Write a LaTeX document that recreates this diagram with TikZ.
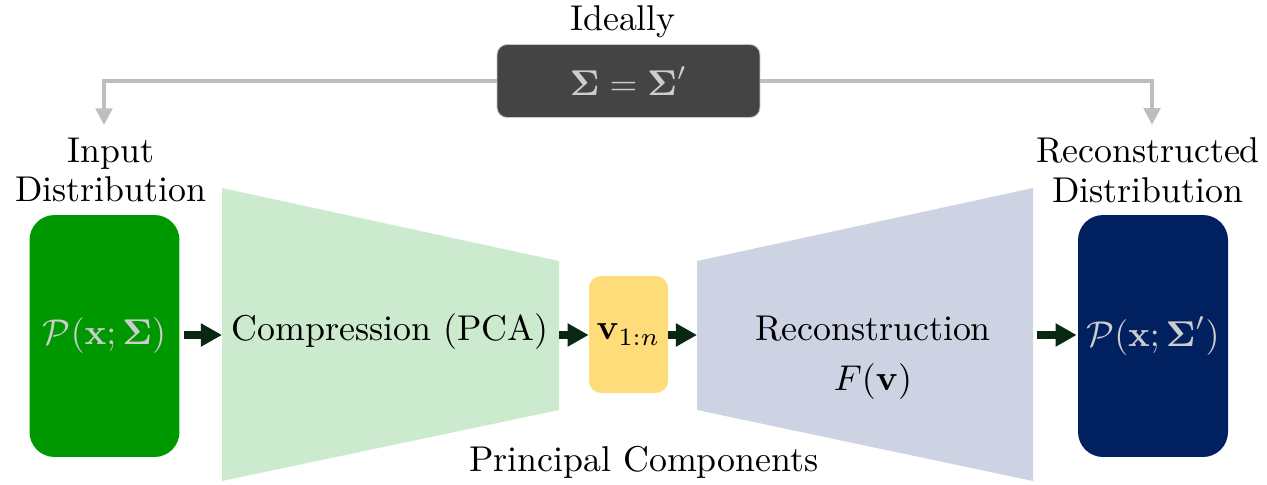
\documentclass[tikz,border=0pt]{standalone}
\usepackage{amsmath,amssymb}
\usetikzlibrary{arrows.meta}

\definecolor{ingreen}{RGB}{0,152,0}
\definecolor{compfill}{RGB}{204,235,206}
\definecolor{recfill}{RGB}{205,211,226}
\definecolor{outblue}{RGB}{0,32,96}
\definecolor{vyellow}{RGB}{255,220,122}
\definecolor{darkbox}{RGB}{68,68,68}
\definecolor{flowcol}{RGB}{8,40,18}
\definecolor{linkgray}{RGB}{190,190,190}
\definecolor{boxtext}{RGB}{205,205,205}

% 10pt design size, enlarged
\newcommand{\enlarged}[1]{\scalebox{2.04}{\fontsize{10}{11.1}\selectfont #1}}

\tikzset{
  txt/.style={scale=2.04, font=\fontsize{10}{11.1}\selectfont, text=black, align=center},
  distbox/.style={rounded corners=0.5cm, minimum width=3.0cm, minimum height=4.84cm,
    text=boxtext},
  flow/.style={draw=flowcol, line width=4pt,
    -{Triangle[length=12pt,width=12.5pt]}},
  link/.style={draw=linkgray, line width=1.8pt,
    -{Triangle[length=9.5pt,width=9.5pt]}},
}

\begin{document}
\begin{tikzpicture}[x=0.02cm, y=-0.02cm]
  \useasboundingbox (0,0) rectangle (1267,484);

  % encoder and decoder trapezoids
  \fill[compfill] (222,188) -- (559,261) -- (559,410) -- (222,481) -- cycle;
  \fill[recfill] (697,261) -- (1033,188) -- (1033,481) -- (697,410) -- cycle;
  \coordinate (compL) at (222,335);
  \coordinate (compR) at (559,335);
  \coordinate (recL) at (697,335);
  \coordinate (recR) at (1033,335);

  % top: ideal covariance condition
  \node[txt] (ideally) at (623,22) {Ideally};
  \node[fill=darkbox, draw=gray!45, line width=0.5pt, rounded corners=0.2cm,
        minimum width=5.26cm, minimum height=1.46cm, text=boxtext]
        (ideal) at (628.5,81) {\enlarged{$\boldsymbol{\Sigma}=\boldsymbol{\Sigma}'$}};

  % distributions
  \node[txt] (inlab) at (111,170) {Input\\Distribution};
  \node[txt] (outlab) at (1148,170) {Reconstructed\\Distribution};
  \node[distbox, fill=ingreen] (inbox) at (104.5,336)
        {\enlarged{$\mathcal{P}(\mathbf{x};\boldsymbol{\Sigma})$}};
  \node[distbox, fill=outblue] (outbox) at (1153,336)
        {\enlarged{$\mathcal{P}(\mathbf{x};\boldsymbol{\Sigma}')$}};

  % stages
  \node[txt] (comp) at (390,332) {Compression (PCA)};
  \node[fill=vyellow, rounded corners=0.24cm, minimum width=1.58cm,
        minimum height=2.34cm]
        (vbox) at (628.5,334.5) {\enlarged{$\mathbf{v}_{1:n}$}};
  \node[txt] (recon) at (873,358) {Reconstruction\\[2.8pt]$F(\mathbf{v})$};
  \node[txt] (pc) at (644,462) {Principal Components};

  % data flow
  \draw[flow, shorten <=2.3pt] (inbox.east |- compL) -- (compL);
  \draw[flow] (compR) -- (vbox.west |- compR);
  \draw[flow] (vbox.east |- recL) -- (recL);
  \draw[flow, shorten <=2.3pt, shorten >=0.6pt] (recR) -- (outbox.west |- recR);

  % comparison links
  \draw[link] (ideal.west) -| (inlab.north -| 104,0);
  \draw[link] (ideal.east) -| (outlab.north -| 1152,0);
\end{tikzpicture}
\end{document}
